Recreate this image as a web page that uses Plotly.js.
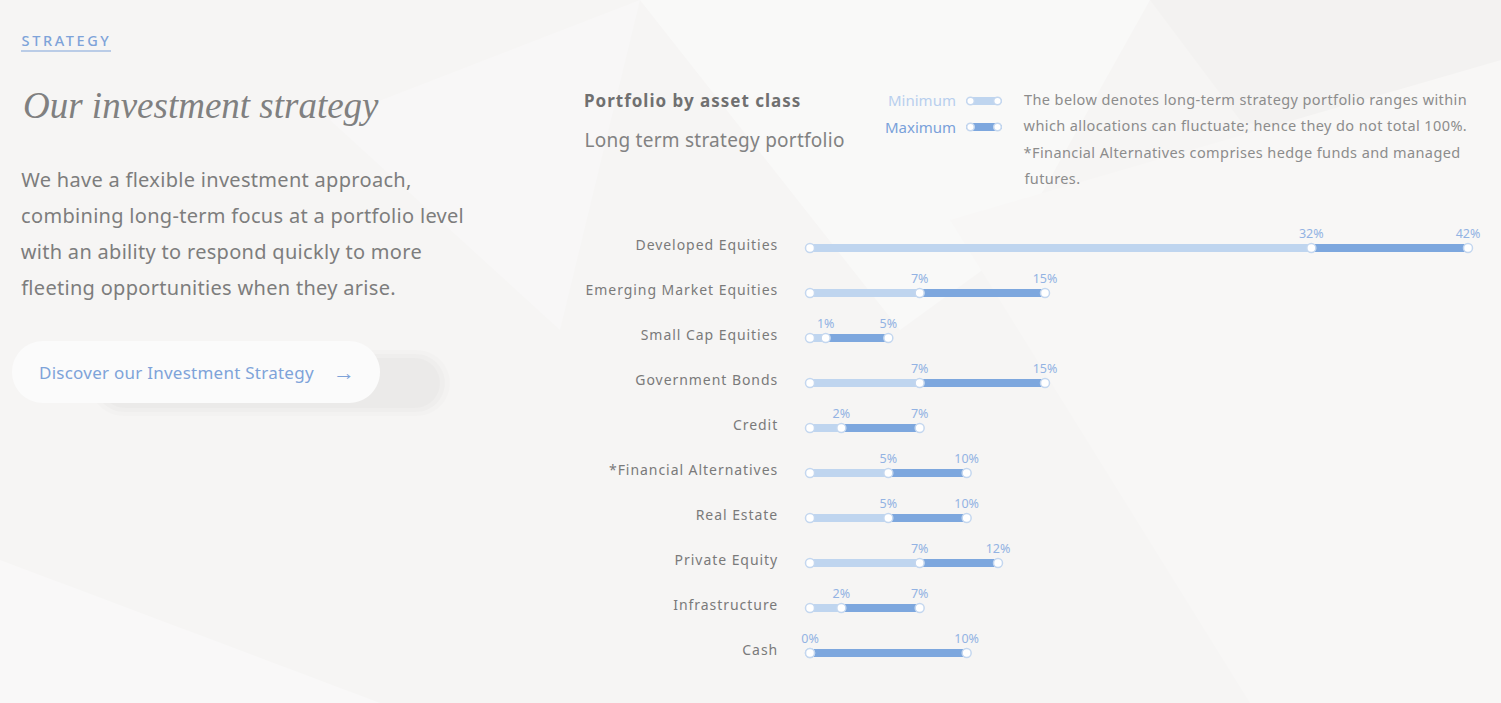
<!DOCTYPE html>
<html>
<head>
<meta charset="utf-8">
<script src="https://cdn.plot.ly/plotly-3.0.1.min.js"></script>
<style>
html,body{margin:0;padding:0;background:#f6f5f4;overflow:hidden;}
#chart{width:1501px;height:703px;}
.ytick text{letter-spacing:0.95px;}
</style>
</head>
<body>
<div id="chart"></div>
<script>
// ---- data ----
const categories = ['Developed Equities','Emerging Market Equities','Small Cap Equities','Government Bonds','Credit','*Financial Alternatives','Real Estate','Private Equity','Infrastructure','Cash'];
const minValues = [32,7,1,7,2,5,5,7,2,0];
const maxValues = [42,15,5,15,7,10,10,12,7,10];
const minLabels = minValues.map(v => v + '%');
const maxLabels = maxValues.map(v => v + '%');
const paragraphLines = ['We have a flexible investment approach,','combining long-term focus at a portfolio level','with an ability to respond quickly to more','fleeting opportunities when they arise.'];
const noteLines = ['The below denotes long-term strategy portfolio ranges within','which allocations can fluctuate; hence they do not total 100%.','*Financial Alternatives comprises hedge funds and managed','futures.'];

// ---- helpers (page pixels -> paper) ----
const W = 1501, H = 703;
const px = x => x / W;
const py = y => 1 - y / H;
function pill(x0, y0, x1, y1) {
  const r = (y1 - y0) / 2, k = 0.5523 * r;
  const P = (x, y) => px(x) + ',' + py(y);
  return 'M' + P(x0 + r, y0) + ' L' + P(x1 - r, y0) +
    ' C' + P(x1 - r + k, y0) + ' ' + P(x1, y0 + r - k) + ' ' + P(x1, y0 + r) +
    ' C' + P(x1, y0 + r + k) + ' ' + P(x1 - r + k, y1) + ' ' + P(x1 - r, y1) +
    ' L' + P(x0 + r, y1) +
    ' C' + P(x0 + r - k, y1) + ' ' + P(x0, y0 + r + k) + ' ' + P(x0, y0 + r) +
    ' C' + P(x0, y0 + r - k) + ' ' + P(x0 + r - k, y0) + ' ' + P(x0 + r, y0) + ' Z';
}
function poly(pts) {
  return 'M' + pts.map(p => px(p[0]) + ',' + py(p[1])).join(' L') + ' Z';
}
function circle(cx, cy, r, line) {
  return {type:'circle', xref:'paper', yref:'paper', layer:'above',
    x0:px(cx - r), x1:px(cx + r), y0:py(cy + r), y1:py(cy - r),
    fillcolor:'#ffffff', line:{color:line, width:1.5}};
}

const LIGHT = '#bfd5ef', DARK = '#7da7de', LABEL = '#93b3e3', RING = '#c4d7ef';

const traces = [
  {type:'bar', orientation:'h', y:categories, x:minValues, base:0, width:0.18,
   marker:{color:LIGHT, cornerradius:4}, hoverinfo:'skip'},
  {type:'bar', orientation:'h', y:categories, x:maxValues.map((v,i) => v - minValues[i]), base:minValues, width:0.18,
   marker:{color:DARK, cornerradius:4}, hoverinfo:'skip'},
  {type:'scatter', mode:'markers', y:categories, x:categories.map(() => 0), cliponaxis:false,
   marker:{size:9, color:'#ffffff', line:{color:RING, width:1.5}}, hoverinfo:'skip'},
  {type:'scatter', mode:'markers+text', y:categories, x:minValues, text:minLabels, textposition:'top center', cliponaxis:false,
   textfont:{family:'Noto Sans', size:12.5, color:LABEL},
   marker:{size:9, color:'#ffffff', line:{color:RING, width:1.5}}, hoverinfo:'skip'},
  {type:'scatter', mode:'markers+text', y:categories, x:maxValues, text:maxLabels, textposition:'top center', cliponaxis:false,
   textfont:{family:'Noto Sans', size:12.5, color:LABEL},
   marker:{size:9, color:'#ffffff', line:{color:RING, width:1.5}}, hoverinfo:'skip'}
];

const FONT = 'Noto Sans';
const annotations = [];
const spacingRules = [];
// ls = letter spacing (px); plotly centres the text in a box measured without it, so shift by half the extra width
function ann(text, x, y, size, color, opts, ls) {
  ls = ls || 0;
  const plain = text.replace(/<[^>]+>/g, '');
  const shift = ls * plain.length / 2;
  const o = Object.assign({xref:'paper', yref:'paper', x:px(x + shift), y:py(y), xanchor:'left', yanchor:'middle',
    text:text, showarrow:false, font:{family:FONT, size:size, color:color}}, opts || {});
  if (ls) spacingRules.push('g.annotation[data-index="' + annotations.length + '"] text{letter-spacing:' + ls + 'px;}');
  annotations.push(o);
}
ann('STRATEGY', 20, 40, 14.5, '#7ea3d9', {font:{family:FONT, size:14.5, color:'#7ea3d9', weight:500}}, 2.6);
ann('<i>Our investment strategy</i>', 21, 105, 37, '#808080', {font:{family:'Liberation Serif', size:37, color:'#808080'}});
paragraphLines.forEach((t, i) => ann(t, 19, 180 + i * 35.7, 20, '#7d7d7d', null, 0.3));
ann('Discover our Investment Strategy', 37, 372, 17, '#7ea3d9', null, 0.25);
ann('→', 331, 371, 22, '#7ea3d9');
ann('<b>Portfolio by asset class</b>', 582, 101, 17, '#707070', null, 1.0);
ann('Long term strategy portfolio', 582, 140, 19, '#828282', null, 0.25);
ann('Minimum', 958, 100, 15, '#b8cfee', {xanchor:'right'});
ann('Maximum', 958, 127, 15, '#79a1da', {xanchor:'right'});
noteLines.forEach((t, i) => ann(t, 1022, 99 + i * 26.3, 14.5, '#8c8c8c', null, 0.4));

const styleEl = document.createElement('style');
styleEl.textContent = spacingRules.join('\n');
document.head.appendChild(styleEl);

const shapes = [
  // background facets
  {type:'path', xref:'paper', yref:'paper', layer:'below', path:poly([[640,0],[1150,0],[1010,250],[900,330]]), fillcolor:'#f9f9f8', line:{width:0}},
  {type:'path', xref:'paper', yref:'paper', layer:'below', path:poly([[0,560],[380,703],[0,703]]), fillcolor:'#f9f8f8', line:{width:0}},
  {type:'path', xref:'paper', yref:'paper', layer:'below', path:poly([[1150,0],[1501,0],[1501,200],[1240,120]]), fillcolor:'#f3f2f1', line:{width:0}},
  {type:'path', xref:'paper', yref:'paper', layer:'below', path:poly([[950,220],[1501,60],[1501,703],[1250,703]]), fillcolor:'#f8f7f6', line:{width:0}},
  {type:'path', xref:'paper', yref:'paper', layer:'below', path:poly([[330,120],[640,0],[560,330]]), fillcolor:'#f8f7f7', line:{width:0}},
  // STRATEGY underline
  {type:'line', xref:'paper', yref:'paper', layer:'above', x0:px(21), x1:px(111), y0:py(51), y1:py(51), line:{color:'#7ea3d9', width:1}},
  // button shadow + button
  {type:'path', xref:'paper', yref:'paper', layer:'below', path:pill(90,350,450,416), fillcolor:'rgba(0,0,0,0.012)', line:{width:0}},
  {type:'path', xref:'paper', yref:'paper', layer:'below', path:pill(95,354,445,412), fillcolor:'rgba(0,0,0,0.015)', line:{width:0}},
  {type:'path', xref:'paper', yref:'paper', layer:'below', path:pill(100,358,440,408), fillcolor:'rgba(0,0,0,0.015)', line:{width:0}},
  {type:'path', xref:'paper', yref:'paper', layer:'below', path:pill(12,341,380,403), fillcolor:'#fbfbfb', line:{width:0}},
  // legend pills
  {type:'path', xref:'paper', yref:'paper', layer:'above', path:pill(966,97,1002,105), fillcolor:LIGHT, line:{width:0}},
  {type:'path', xref:'paper', yref:'paper', layer:'above', path:pill(966,123,1002,131), fillcolor:DARK, line:{width:0}},
  circle(970.5, 101, 3.8, RING), circle(997.5, 101, 3.8, RING),
  circle(970.5, 127, 3.8, RING), circle(997.5, 127, 3.8, RING)
];

const layout = {
  width: W, height: H,
  margin:{l:0, r:0, t:0, b:0},
  paper_bgcolor:'#f6f5f4', plot_bgcolor:'rgba(0,0,0,0)',
  showlegend:false, barmode:'overlay', hovermode:false,
  font:{family:FONT},
  xaxis:{domain:[810/W, 1468/W], range:[0,42], visible:false, fixedrange:true},
  yaxis:{domain:[py(675.5), py(225.5)], range:[9.5,-0.5], type:'category',
    categoryorder:'array', categoryarray:categories,
    showgrid:false, zeroline:false, showline:false,
    ticks:'outside', ticklen:28, tickcolor:'rgba(0,0,0,0)', ticklabelshift:3,
    tickfont:{family:FONT, size:14, color:'#7a7a7a'}, fixedrange:true},
  annotations: annotations,
  shapes: shapes
};

Plotly.newPlot('chart', traces, layout, {displayModeBar:false, staticPlot:true});
</script>
</body>
</html>
